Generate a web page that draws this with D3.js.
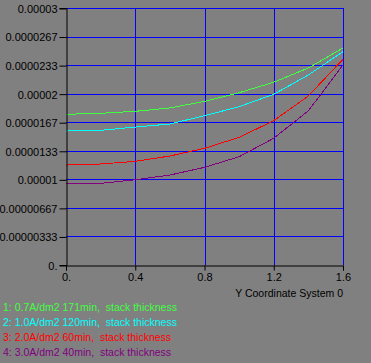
<!DOCTYPE html>
<html>
<head>
<meta charset="utf-8">
<script src="https://cdn.jsdelivr.net/npm/d3@7"></script>
<style>
  body { margin: 0; background: #808080; }
  svg { display: block; font-family: "Liberation Sans", Arial, sans-serif; }
  text { white-space: pre; }
</style>
</head>
<body>
<svg id="chart" width="371" height="363"></svg>
<script>
// x positions along the coordinate
const xValues = [0, 0.2, 0.4, 0.6, 0.8, 1.0, 1.2, 1.4, 1.6];

// stack thickness for each run
const green = [1.759e-5, 1.771e-5, 1.794e-5, 1.833e-5, 1.910e-5, 2.011e-5, 2.133e-5, 2.300e-5, 2.533e-5];
const cyan = [1.564e-5, 1.572e-5, 1.610e-5, 1.646e-5, 1.743e-5, 1.848e-5, 1.993e-5, 2.218e-5, 2.490e-5];
const red = [1.167e-5, 1.179e-5, 1.210e-5, 1.272e-5, 1.362e-5, 1.490e-5, 1.685e-5, 1.973e-5, 2.401e-5];
const purple = [9.455e-6, 9.53e-6, 9.95e-6, 1.050e-5, 1.140e-5, 1.264e-5, 1.480e-5, 1.800e-5, 2.335e-5];

const seriesNames = [
  "1: 0.7A/dm2 171min,  stack thickness",
  "2: 1.0A/dm2 120min,  stack thickness",
  "3: 2.0A/dm2 60min,  stack thickness",
  "4: 3.0A/dm2 40min,  stack thickness"
];
const seriesColors = ["#40ff40", "#00ffff", "#ff0000", "#800080"];

const yTicks = [0, 3.333e-6, 6.667e-6, 1e-5, 1.333e-5, 1.667e-5, 2e-5, 2.333e-5, 2.667e-5, 3e-5];
const yTickLabels = ["0.", "0.00000333", "0.00000667", "0.00001", "0.0000133", "0.0000167", "0.00002", "0.0000233", "0.0000267", "0.00003"];
const xTicks = [0, 0.4, 0.8, 1.2, 1.6];
const xTickLabels = ["0.", "0.4", "0.8", "1.2", "1.6"];

const svg = d3.select("#chart");

const x = d3.scaleLinear().domain([0, 1.6]).range([66, 343]);
const y = d3.scaleLinear().domain([0, 3e-5]).range([265, 8]);

// blue grid
svg.append("g")
    .selectAll("line")
    .data(yTicks.slice(1))
    .enter()
    .append("line")
    .attr("x1", x(0)).attr("x2", x(1.6))
    .attr("y1", d => Math.round(y(d)) + 0.5)
    .attr("y2", d => Math.round(y(d)) + 0.5)
    .attr("stroke", "#0000ff");

svg.append("g")
    .selectAll("line")
    .data(xTicks.slice(1))
    .enter()
    .append("line")
    .attr("x1", d => Math.round(x(d)) + 0.5)
    .attr("x2", d => Math.round(x(d)) + 0.5)
    .attr("y1", y(3e-5)).attr("y2", y(0))
    .attr("stroke", "#0000ff");

// curves
const allSeries = [green, cyan, red, purple];
const line = d3.line()
    .x((d, i) => x(xValues[i]))
    .y(d => y(d));

svg.append("g")
    .selectAll("path")
    .data(allSeries)
    .enter()
    .append("path")
    .attr("d", line)
    .attr("fill", "none")
    .attr("stroke", (d, i) => seriesColors[i])
    .attr("stroke-width", 1)
    .attr("shape-rendering", "crispEdges");

// axes
const yAxis = d3.axisLeft(y)
    .tickValues(yTicks)
    .tickFormat((d, i) => yTickLabels[i])
    .tickSize(7)
    .tickPadding(2);

const xAxis = d3.axisBottom(x)
    .tickValues(xTicks)
    .tickFormat((d, i) => xTickLabels[i])
    .tickSize(5)
    .tickPadding(3);

const gy = svg.append("g")
    .attr("transform", "translate(66.5,0)")
    .call(yAxis);

const gx = svg.append("g")
    .attr("transform", "translate(0,265.5)")
    .call(xAxis);

[gx, gy].forEach(g => {
  g.select(".domain").attr("stroke", "#000");
  g.selectAll(".tick line").attr("stroke", "#000");
  g.selectAll(".tick text")
      .attr("fill", "#000")
      .style("font-size", "11px")
      .style("font-family", "Liberation Sans, Arial, sans-serif");
});
gy.selectAll(".tick line").attr("transform", "translate(0,0.5)");
gy.selectAll(".tick text").attr("dy", "0.4em");

// axis title
svg.append("text")
    .attr("x", 343)
    .attr("y", 297)
    .attr("text-anchor", "end")
    .style("font-size", "10.5px")
    .attr("fill", "#000")
    .text("Y Coordinate System 0");

// legend
svg.append("g")
    .selectAll("text")
    .data(seriesNames)
    .enter()
    .append("text")
    .attr("x", 3)
    .attr("y", (d, i) => 311 + i * 15)
    .style("font-size", "10.5px")
    .attr("fill", (d, i) => seriesColors[i])
    .text(d => d);
</script>
</body>
</html>
